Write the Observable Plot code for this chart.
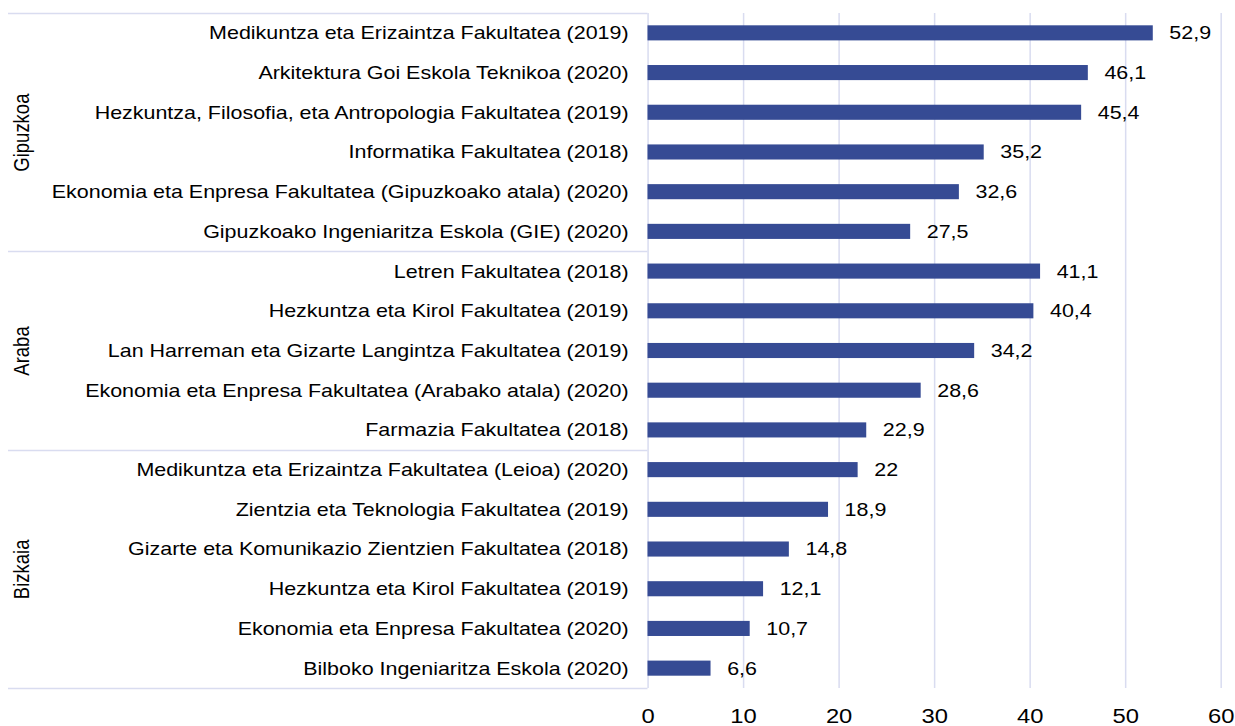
<!DOCTYPE html>
<html>
<head>
<meta charset="utf-8">
<script src="https://cdn.jsdelivr.net/npm/d3@7"></script>
<script src="https://cdn.jsdelivr.net/npm/@observablehq/plot@0.6"></script>
<style>
  html, body { margin: 0; padding: 0; background: #fff; overflow: hidden; }
  #chart svg { display: block; }
</style>
</head>
<body>
<div id="chart"></div>
<script>
const groups = ["Gipuzkoa", "Araba", "Bizkaia"];
const groupSizes = [6, 5, 6];
const labels = [
  "Medikuntza eta Erizaintza Fakultatea (2019)",
  "Arkitektura Goi Eskola Teknikoa (2020)",
  "Hezkuntza, Filosofia, eta Antropologia Fakultatea (2019)",
  "Informatika Fakultatea (2018)",
  "Ekonomia eta Enpresa Fakultatea (Gipuzkoako atala) (2020)",
  "Gipuzkoako Ingeniaritza Eskola (GIE) (2020)",
  "Letren Fakultatea (2018)",
  "Hezkuntza eta Kirol Fakultatea (2019)",
  "Lan Harreman eta Gizarte Langintza Fakultatea (2019)",
  "Ekonomia eta Enpresa Fakultatea (Arabako atala) (2020)",
  "Farmazia Fakultatea (2018)",
  "Medikuntza eta Erizaintza Fakultatea (Leioa) (2020)",
  "Zientzia eta Teknologia Fakultatea (2019)",
  "Gizarte eta Komunikazio Zientzien Fakultatea (2018)",
  "Hezkuntza eta Kirol Fakultatea (2019)",
  "Ekonomia eta Enpresa Fakultatea (2020)",
  "Bilboko Ingeniaritza Eskola (2020)"
];
const values = [52.9, 46.1, 45.4, 35.2, 32.6, 27.5, 41.1, 40.4, 34.2, 28.6, 22.9, 22, 18.9, 14.8, 12.1, 10.7, 6.6];
const xTicks = [0, 10, 20, 30, 40, 50, 60];

const rows = labels.map((label, i) => ({i, label, value: values[i]}));
let start = 0;
const groupInfo = groups.map((g, k) => {
  const s = start; start += groupSizes[k];
  return {group: g, from: s - 0.5, to: start - 0.5, center: (s + start - 1) / 2};
});
const boundaries = [groupInfo[0].from, ...groupInfo.map(d => d.to)];

// The reference is horizontally stretched; draw at a narrower width and stretch the SVG.
const OUT_W = 1235, H = 726, S = 1.16;
const W = OUT_W / S;
const ML = 647.5 / S, MR = 14.4 / S, MT = 13, MB = 38;
const FONT = "'Liberation Sans', Arial, sans-serif";
const fmt = v => String(v).replace(".", ",");
const half = 0.19;
const GRID = "#D9DCF0";

const chart = Plot.plot({
  width: W, height: H,
  marginLeft: ML, marginRight: MR, marginTop: MT, marginBottom: MB,
  style: {fontFamily: FONT, fontSize: "18.5px", color: "#000", background: "#fff", overflow: "visible"},
  x: {domain: [0, 60], axis: null},
  y: {domain: [-0.5, labels.length - 0.5], reverse: true, axis: null},
  marks: [
    Plot.ruleX(xTicks, {stroke: GRID, strokeWidth: 1.3}),
    (index, scales, vals, dims) => {
      const g = d3.create("svg:g");
      for (const b of boundaries) {
        const y = Math.round(scales.y(b)) + 0.5;
        g.append("line").attr("x1", 8 / S).attr("x2", dims.marginLeft).attr("y1", y).attr("y2", y)
          .attr("stroke", GRID).attr("stroke-width", 1.3);
      }
      return g.node();
    },
    Plot.rectX(rows, {x1: 0, x2: "value", y1: d => d.i - half, y2: d => d.i + half, fill: "#364B94"}),
    Plot.text(rows, {x: "value", y: "i", text: d => fmt(d.value), textAnchor: "start", dx: 13.8, fill: "#000", fontSize: 18.5}),
    Plot.axisY(rows.map(d => d.i), {anchor: "left", tickSize: 0, tickPadding: 16.8, tickFormat: i => labels[i], fontSize: 18.5, fill: "#000", label: null}),
    Plot.text(groupInfo, {y: "center", text: "group", frameAnchor: "left", dx: -(ML - 18.6), rotate: -90, textAnchor: "middle", fontSize: 18.5, fill: "#000"}),
    Plot.axisX(xTicks, {anchor: "bottom", tickSize: 0, tickPadding: 20, fontSize: 20.5, fill: "#000", tickFormat: d => d, label: null})
  ]
});
chart.setAttribute("viewBox", `0 0 ${W} ${H}`);
chart.setAttribute("preserveAspectRatio", "none");
chart.setAttribute("width", OUT_W);
chart.setAttribute("height", H);
chart.style.width = OUT_W + "px";
chart.style.height = H + "px";
chart.style.maxWidth = "none";
document.getElementById("chart").append(chart);
</script>
</body>
</html>
